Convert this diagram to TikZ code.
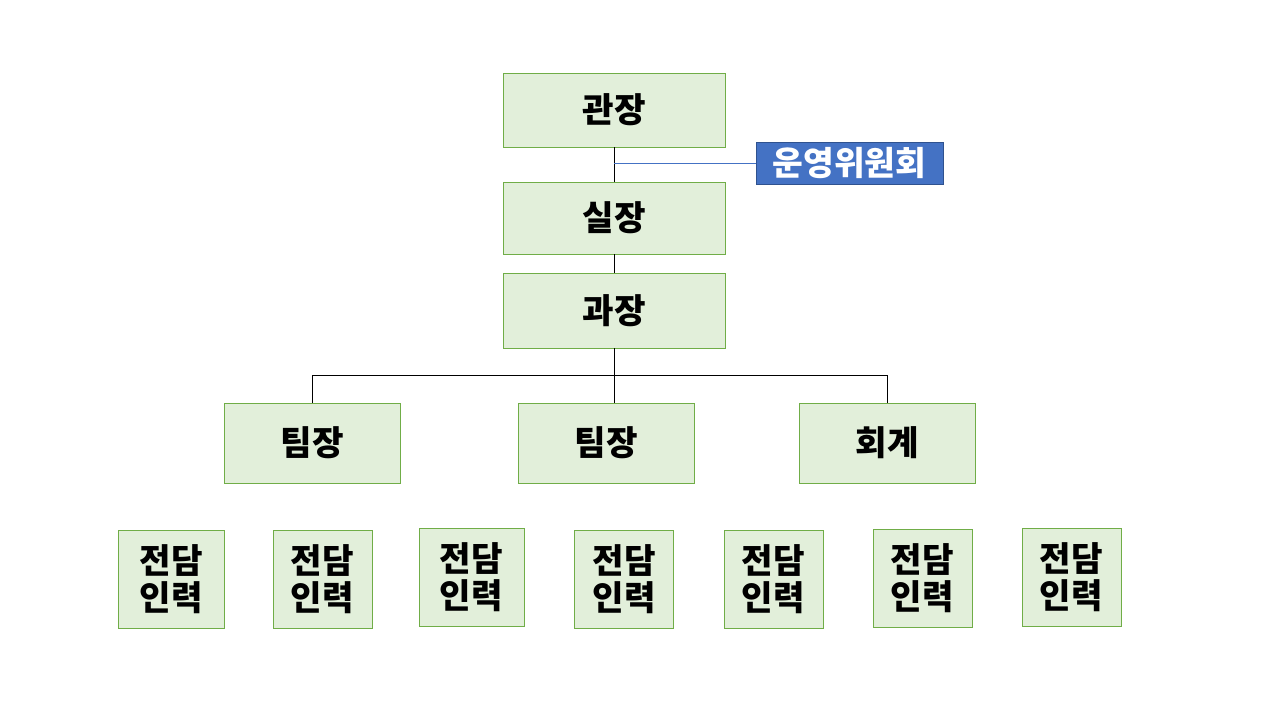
\documentclass[tikz,border=0pt]{standalone}
\usepackage{fontspec}
\setmainfont{Noto Sans CJK KR}
\usetikzlibrary{positioning}

\definecolor{boxfill}{HTML}{E2EFDA}
\definecolor{boxline}{HTML}{70AD47}
\definecolor{cmtfill}{HTML}{4472C4}
\definecolor{cmtline}{HTML}{2F528F}

\begin{document}
\begin{tikzpicture}[
  x=0.02cm, y=-0.02cm,
  post/.style={draw=boxline, fill=boxfill, rectangle, inner sep=0pt, text centered,
               minimum width=4.44cm, font=\bfseries\fontsize{19.5}{22}\selectfont},
  team/.style={post, minimum width=3.52cm, minimum height=1.6cm},
  staff/.style={post, minimum width=1.98cm, minimum height=1.96cm, align=center,
                font=\bfseries\fontsize{19.5}{21}\selectfont},
  cmt/.style={draw=cmtline, fill=cmtfill, rectangle, inner sep=0pt, text=white,
              minimum width=3.74cm, minimum height=0.84cm, font=\bfseries\fontsize{19}{21}\selectfont},
  conn/.style={draw=black, line width=0.5pt},
  cline/.style={draw=cmtfill, line width=0.5pt}
]
  \useasboundingbox (0,0) rectangle (1280,720);
  \node[post, minimum height=1.48cm]             (gwanjang) at (614,110)   {관장};
  \node[cmt]                                     (cmt)      at (849.5,163) {운영위원회};
  \node[post, minimum height=1.44cm]             (siljang)  at (614,218)   {실장};
  \node[post, minimum height=1.50cm]             (gwajang)  at (614,310.5) {과장};
  \coordinate                                    (bus)      at (614,375);
  \node[team]                                    (team1)    at (312,443)   {팀장};
  \node[team]                                    (team2)    at (606,443)   {팀장};
  \node[team]                                    (acct)     at (887,443)   {회계};
  \node[staff, minimum width=2.12cm]             (staff1)   at (171,579)   {전담\\인력};
  \node[staff]                                   (staff2)   at (322.5,579) {전담\\인력};
  \node[staff, minimum width=2.10cm]             (staff3)   at (471.5,577) {전담\\인력};
  \node[staff]                                   (staff4)   at (624,579)   {전담\\인력};
  \node[staff]                                   (staff5)   at (773.5,579) {전담\\인력};
  \node[staff]                                   (staff6)   at (922.5,578) {전담\\인력};
  \node[staff]                                   (staff7)   at (1071.5,577){전담\\인력};
  \draw[conn]  (gwanjang) -- (siljang);
  \draw[conn]  (siljang) -- (gwajang);
  \draw[cline] (cmt.west) -- (cmt.west -| gwanjang.south);
  \draw[conn]  (gwajang) -- (bus);
  \draw[conn]  (bus) -| (team1.north);
  \draw[conn]  (bus) -| (acct.north);
  \draw[conn]  (bus) -- (bus |- team2.north);
\end{tikzpicture}
\end{document}
